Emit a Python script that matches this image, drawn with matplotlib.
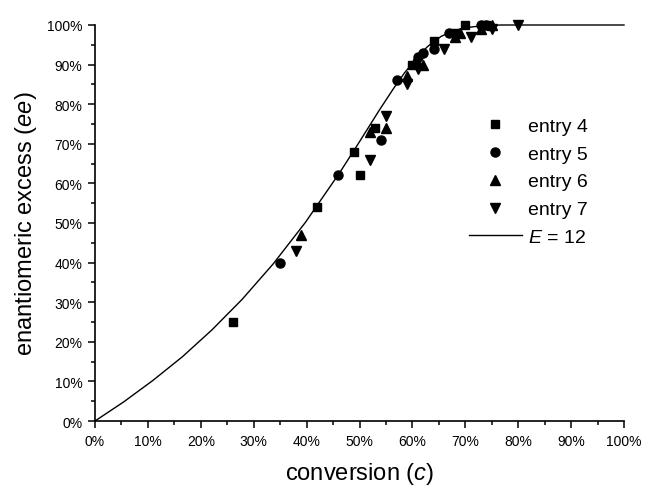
import matplotlib
matplotlib.use("Agg")
import matplotlib.pyplot as plt
from matplotlib.ticker import MultipleLocator, PercentFormatter

plt.rcParams["font.family"] = ["Liberation Sans", "DejaVu Sans"]
plt.rcParams["mathtext.fontset"] = "custom"
plt.rcParams["mathtext.rm"] = "Liberation Sans"
plt.rcParams["mathtext.it"] = "Liberation Sans:italic"

# conversion (%) / ee (%)
entry4_c = [26, 42, 49, 50, 53, 60, 64, 68, 70, 74]
entry4_ee = [25, 54, 68, 62, 74, 90, 96, 98, 100, 100]
entry5_c = [35, 46, 54, 57, 61, 62, 64, 67, 73, 74]
entry5_ee = [40, 62, 71, 86, 92, 93, 94, 98, 100, 100]
entry6_c = [39, 52, 55, 59, 60.7, 62, 68, 69, 73, 75]
entry6_ee = [47, 73, 74, 87, 91.5, 90, 97, 98, 99, 100]
entry7_c = [38, 52, 55, 59, 61, 66, 71, 75, 80]
entry7_ee = [43, 66, 77, 85, 89, 94, 97, 99, 100]

# E = 12 curve
curve_c = [0, 5.4, 10.9, 16.5, 22.1, 27.8, 33.7, 39.8, 46.3, 49.8, 53.7,
           56.4, 58.5, 61.2, 62.9, 65.4, 67.6, 70.1, 71.8, 74.6, 76.8, 80, 90, 100]
curve_ee = [0, 4.8, 10.2, 16.2, 23.0, 30.7, 39.7, 50.2, 62.8, 70.1, 78.4,
            83.9, 87.9, 92.3, 94.6, 97.1, 98.5, 99.3, 99.6, 99.9, 100, 100, 100, 100]

W, H = 646, 489
fig = plt.figure(figsize=(W / 100, H / 100), dpi=100)
ax = fig.add_axes([95 / W, 1 - 422 / H, (624 - 95) / W, (422 - 26) / H])

ms = 6.5
ax.plot(entry4_c, entry4_ee, "s", color="black", ms=ms - 0.5, label="entry 4", clip_on=False)
ax.plot(entry5_c, entry5_ee, "o", color="black", ms=ms, label="entry 5", clip_on=False)
ax.plot(entry6_c, entry6_ee, "^", color="black", ms=ms + 1, label="entry 6", clip_on=False)
ax.plot(entry7_c, entry7_ee, "v", color="black", ms=ms + 1, label="entry 7", clip_on=False)
ax.plot(curve_c, curve_ee, "-", color="black", lw=1.0, label="$E$ = 12", clip_on=False)

ax.set_xlim(0, 100)
ax.set_ylim(0, 100)
for sp in ("top", "right"):
    ax.spines[sp].set_visible(False)
for sp in ("left", "bottom"):
    ax.spines[sp].set_linewidth(1.2)

ax.xaxis.set_major_locator(MultipleLocator(10))
ax.xaxis.set_minor_locator(MultipleLocator(5))
ax.yaxis.set_major_locator(MultipleLocator(10))
ax.yaxis.set_minor_locator(MultipleLocator(5))
ax.xaxis.set_major_formatter(PercentFormatter(decimals=0))
ax.yaxis.set_major_formatter(PercentFormatter(decimals=0))
ax.tick_params(which="major", direction="out", length=5, width=1.1, labelsize=10, pad=4)
ax.tick_params(which="minor", direction="out", length=2.6, width=1.1)

ax.set_xlabel("conversion ($\\mathit{c}$)", fontsize=17, labelpad=9)
ax.set_ylabel("enantiomeric excess ($\\mathit{ee}$)", fontsize=17, labelpad=6)

leg = ax.legend(loc="upper left", bbox_to_anchor=(469 / W, 1 - 118 / H),
                bbox_transform=fig.transFigure, frameon=False, fontsize=14,
                handlelength=2.7, handletextpad=0.35, labelspacing=0.53,
                borderpad=0, borderaxespad=0)

fig.savefig("out.png", dpi=100)
